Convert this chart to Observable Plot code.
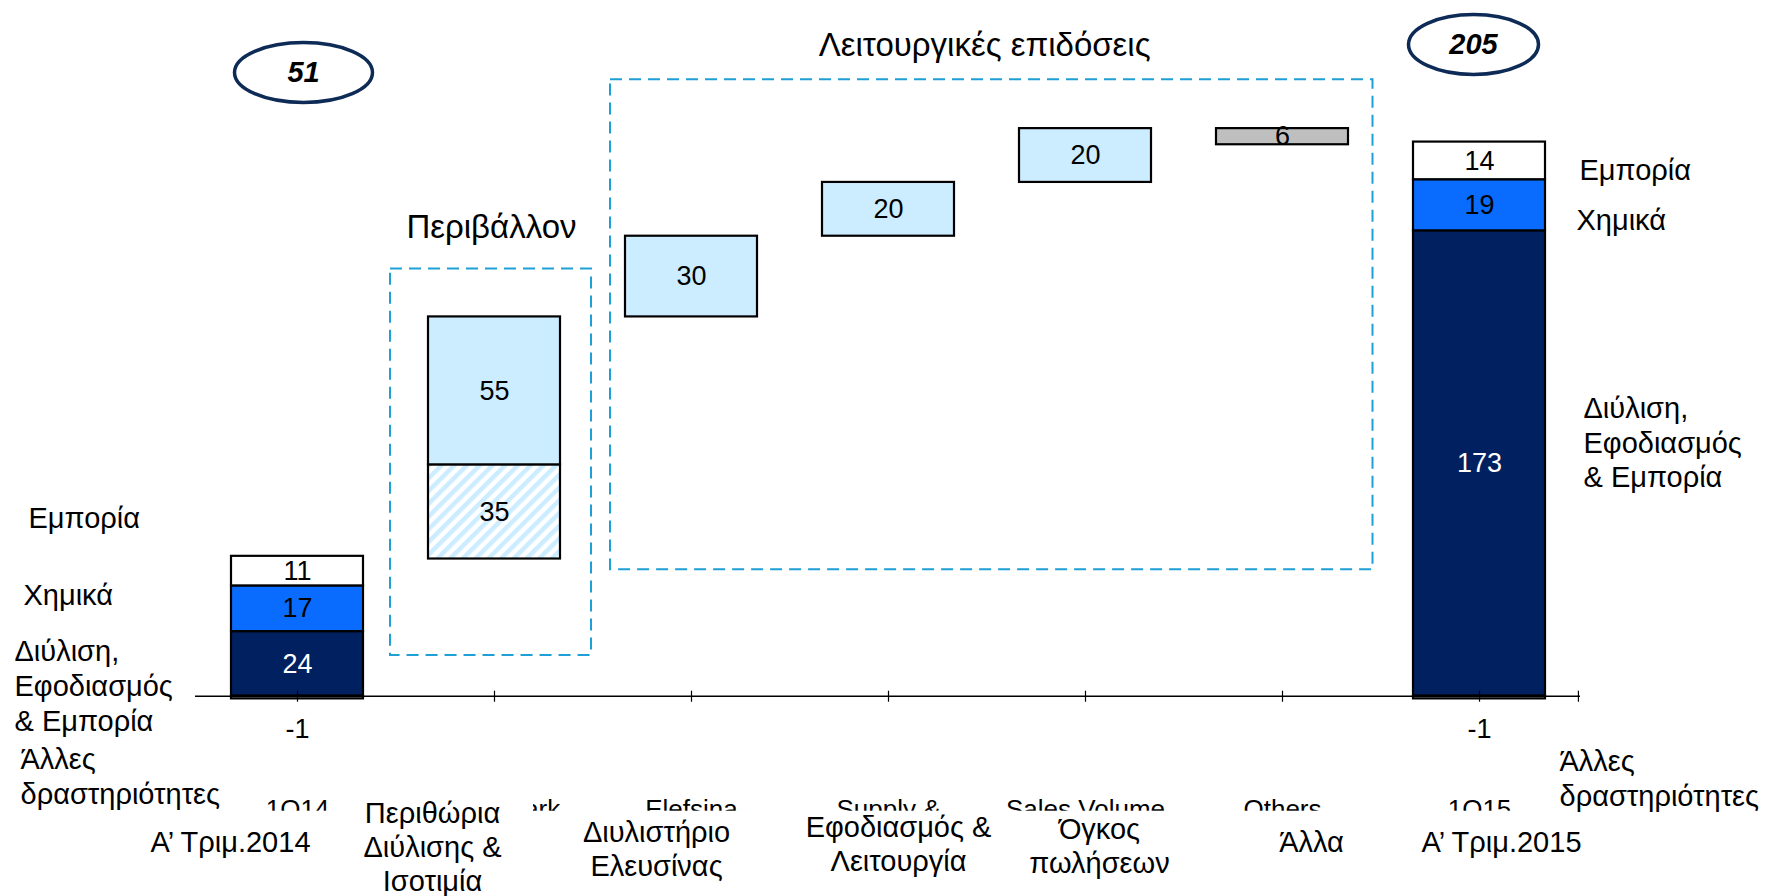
<!DOCTYPE html>
<html>
<head>
<meta charset="utf-8">
<script src="https://cdn.jsdelivr.net/npm/d3@7"></script>
<script src="https://cdn.jsdelivr.net/npm/@observablehq/plot@0.6"></script>
<style>
  html, body { margin: 0; padding: 0; background: #fff; overflow: hidden; }
  #chart svg { display: block; }
</style>
</head>
<body>
<div id="chart"></div>
<script>
// ---------------- data ----------------
const keys = ["1Q14", "Benchmark", "Elefsina", "Supply &", "Sales Volume", "Others", "1Q15"];
const greekLabels = [
  "Α’ Τριμ.2014",
  "Περιθώρια\nΔιύλισης &\nΙσοτιμία",
  "Διυλιστήριο\nΕλευσίνας",
  "Εφοδιασμός &\nΛειτουργία",
  "Όγκος\nπωλήσεων",
  "Άλλα",
  "Α’ Τριμ.2015"
];
const segmentNames = ["Διύλιση,\nΕφοδιασμός\n& Εμπορία", "Χημικά", "Εμπορία", "Άλλες\nδραστηριότητες"];
const q1_2014 = [24, 17, 11, -1];
const q1_2015 = [173, 19, 14, -1];
const totalLabels = ["51", "205"];
const benchmarkParts = [35, 55];          // hatched part, solid part
const opsSteps = [30, 20, 20, -6];        // Elefsina, Supply & Operations, Sales volume, Others
const groupTitles = ["Περιβάλλον", "Λειτουργικές επιδόσεις"];

// ---------------- styles ----------------
const NAVY = "#002060", BLUE = "#0A6CFF", LIGHT = "#CCECFF", GRAY = "#BFBFBF", DASH = "#1E9FD6";
const segColors = [NAVY, BLUE, "#FFFFFF", GRAY];
const segText = ["white", "black", "black", "black"];
const FONT = "'Liberation Sans', Arial, sans-serif";

// ---------------- derived bar table ----------------
function stack(key, values) {
  let pos = 0, neg = 0;
  return values.map((v, i) => {
    let y1, y2;
    if (v >= 0) { y1 = pos; pos += v; y2 = pos; } else { y2 = neg; neg += v; y1 = neg; }
    return {key, y1, y2, value: v, fill: segColors[i], textColor: segText[i], kind: "stack", seg: i};
  });
}
const bars = [...stack(keys[0], q1_2014)];
let level = d3.sum(q1_2014);
bars.push({key: keys[1], y1: level, y2: level + benchmarkParts[0], value: benchmarkParts[0], fill: "url(#hatch)", textColor: "black", kind: "bridge"});
level += benchmarkParts[0];
bars.push({key: keys[1], y1: level, y2: level + benchmarkParts[1], value: benchmarkParts[1], fill: LIGHT, textColor: "black", kind: "bridge"});
level += benchmarkParts[1];
opsSteps.forEach((v, i) => {
  const a = level, b = level + v;
  bars.push({key: keys[2 + i], y1: Math.min(a, b), y2: Math.max(a, b), value: v, fill: v < 0 ? GRAY : LIGHT, textColor: "black", kind: "bridge"});
  level = b;
});
bars.push(...stack(keys[6], q1_2015));

// ---------------- layout (annotation placement) ----------------
const greekLayout = [
  {dx: -67, dy: 145}, {dx: -62, dy: 150}, {dx: -35, dy: 152}, {dx: 10, dy: 147},
  {dx: 14, dy: 149}, {dx: 29, dy: 145}, {dx: 22, dy: 145}
];
const sideLayout = [
  {bar: 0, seg: 2, dx: -269, dy: -54}, {bar: 0, seg: 1, dx: -274, dy: -15},
  {bar: 0, seg: 0, dx: -283, dy: 21}, {bar: 0, seg: 3, dx: -277, dy: 78},
  {bar: 6, seg: 2, dx: 100, dy: 7.5}, {bar: 6, seg: 1, dx: 97, dy: 14},
  {bar: 6, seg: 0, dx: 104, dy: -22}, {bar: 6, seg: 3, dx: 80, dy: 80}
];
const boxLayout = [
  {from: keys[1], to: keys[1], padLeft: 38, padRight: 31, top: 158.8, bottom: 15.1, title: groupTitles[0], titleDx: -3, titleY: 227},
  {from: keys[2], to: keys[5], padLeft: 15, padRight: 24.5, top: 229.2, bottom: 47, title: groupTitles[1], titleDx: -6, titleY: 45}
];
const ellipseLayout = [
  {key: keys[0], text: totalLabels[0], dx: 6, dy: 72, rx: 69, ry: 30},
  {key: keys[6], text: totalLabels[1], dx: -6, dy: 44, rx: 65, ry: 30}
];

function ellipseSymbol(rx, ry) {
  const k = 0.5522847;
  return {draw(ctx) {
    ctx.moveTo(rx, 0);
    ctx.bezierCurveTo(rx, ry * k, rx * k, ry, 0, ry);
    ctx.bezierCurveTo(-rx * k, ry, -rx, ry * k, -rx, 0);
    ctx.bezierCurveTo(-rx, -ry * k, -rx * k, -ry, 0, -ry);
    ctx.bezierCurveTo(rx * k, -ry, rx, -ry * k, rx, 0);
    ctx.closePath();
  }};
}

function bandwidthOf(x) {
  return typeof x.bandwidth === "function" ? x.bandwidth() : (x(keys[1]) - x(keys[0])) * 0.67;
}

// dashed group frames
function dashedBoxes(index, scales) {
  const {x, y} = scales;
  const bw = bandwidthOf(x);
  const g = d3.create("svg:g");
  for (const b of boxLayout) {
    const x1 = x(b.from) - b.padLeft, x2 = x(b.to) + bw + b.padRight;
    const y1 = y(b.top), y2 = y(b.bottom);
    g.append("rect")
      .attr("x", x1).attr("y", y1).attr("width", x2 - x1).attr("height", y2 - y1)
      .attr("fill", "none").attr("stroke", DASH).attr("stroke-width", 2)
      .attr("stroke-dasharray", "12,7");
  }
  return g.node();
}

// white label boxes that clip the underlying English category labels
function labelCover(index, scales, values, dimensions) {
  const {x, y} = scales;
  const bw = bandwidthOf(x);
  const y0 = y(0);
  const g = d3.create("svg:g");
  g.append("rect").attr("x", 0).attr("y", y0 + 115).attr("width", dimensions.width).attr("height", dimensions.height - (y0 + 115)).attr("fill", "white");
  const cx = x(keys[1]) + bw / 2;
  g.append("rect").attr("x", cx - 141).attr("y", y0 + 101).attr("width", 180).attr("height", 16).attr("fill", "white");
  return g.node();
}

const step = 1385 / 7;

const marks = [
  dashedBoxes,
  Plot.barY(bars, {x: "key", y1: "y1", y2: "y2", fill: "fill", stroke: "black", strokeWidth: 2.2}),
  Plot.ruleY([0], {stroke: "black", strokeWidth: 1.5}),
  Plot.ruleX(keys, {x: d => d, y1: () => 0, y2: () => 0, insetTop: -5, insetBottom: -6, stroke: "black", strokeWidth: 1.2}),
  Plot.ruleX([keys[6]], {x: d => d, y1: () => 0, y2: () => 0, insetTop: -5, insetBottom: -6, dx: step / 2, stroke: "black", strokeWidth: 1.2}),
  Plot.text(bars.filter(d => !(d.kind === "stack" && d.value < 0)), {
    x: "key", y: d => (d.y1 + d.y2) / 2, text: d => String(Math.abs(d.value)),
    fill: "textColor", fontSize: 27, lineAnchor: "middle"
  }),
  Plot.text(bars.filter(d => d.kind === "stack" && d.value < 0), {
    x: "key", y: "y1", text: d => String(d.value), dy: 30, fill: "black", fontSize: 27, lineAnchor: "middle"
  }),
  // English category labels (partly hidden behind the Greek label boxes)
  Plot.text(keys, {x: d => d, y: () => 0, text: d => d, dy: 122, lineAnchor: "bottom", fontSize: 26, fill: "black"}),
  labelCover,
  ...keys.map((k, i) => Plot.text([k], {
    x: d => d, y: () => 0, text: () => greekLabels[i], dx: greekLayout[i].dx, dy: greekLayout[i].dy,
    lineAnchor: "middle", lineHeight: 1.17, fontSize: 29, fill: "black"
  })),
  ...sideLayout.map(s => {
    const d = bars.find(b => b.key === keys[s.bar] && b.kind === "stack" && b.seg === s.seg);
    return Plot.text([d], {
      x: "key", y: b => (b.y1 + b.y2) / 2, text: () => segmentNames[s.seg], dx: s.dx, dy: s.dy,
      textAnchor: "start", lineAnchor: "middle", lineHeight: 1.2, fontSize: 29, fill: "black"
    });
  }),
  ...boxLayout.map(b => Plot.text([b], {
    x: () => b.from, frameAnchor: "top", dy: b.titleY, text: "title",
    dx: b.from === b.to ? b.titleDx : b.titleDx + ((keys.indexOf(b.to) - keys.indexOf(b.from)) * step + 0.5 * (b.padRight - b.padLeft)) / 2,
    fontSize: 33, lineAnchor: "middle", fill: "black"
  })),
  ...ellipseLayout.map(e => Plot.dot([e], {
    x: "key", frameAnchor: "top", dx: e.dx, dy: e.dy, symbol: ellipseSymbol(e.rx, e.ry), r: 3,
    fill: "white", stroke: "#0D2B56", strokeWidth: 3.5
  })),
  ...ellipseLayout.map(e => Plot.text([e], {
    x: "key", frameAnchor: "top", dx: e.dx, dy: e.dy, text: "text",
    fontSize: 29, fontWeight: "bold", fontStyle: "italic", lineAnchor: "middle", fill: "black"
  }))
];

const chart = Plot.plot({
  width: 1777,
  height: 896,
  marginLeft: 195,
  marginRight: 197,
  marginTop: 0,
  marginBottom: 0,
  style: {fontFamily: FONT, background: "#fff", overflow: "visible"},
  x: {type: "band", domain: keys, paddingInner: 0.33, paddingOuter: 0.165, axis: null},
  y: {domain: [-74.46, 258.63], axis: null},
  color: {type: "identity"},
  marks
});

// hatch pattern definition
const svgSel = d3.select(chart.tagName.toLowerCase() === "svg" ? chart : chart.querySelector("svg"));
const defs = svgSel.insert("defs", ":first-child");
const pat = defs.append("pattern").attr("id", "hatch").attr("patternUnits", "userSpaceOnUse")
  .attr("width", 9).attr("height", 9).attr("patternTransform", "rotate(45)");
pat.append("rect").attr("width", 9).attr("height", 9).attr("fill", "white");
pat.append("rect").attr("width", 4.5).attr("height", 9).attr("fill", LIGHT);

document.getElementById("chart").appendChild(chart);
</script>
</body>
</html>
